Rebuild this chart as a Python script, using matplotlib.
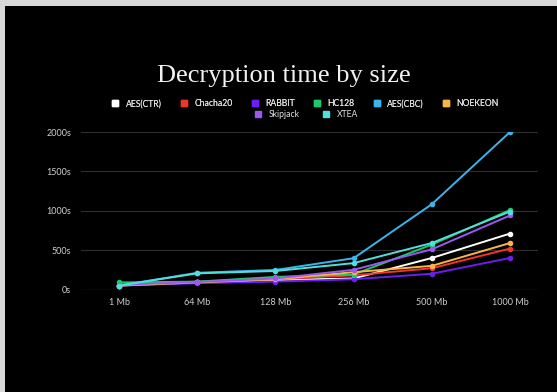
import matplotlib.pyplot as plt
from matplotlib.lines import Line2D
from matplotlib.patches import Rectangle

sizes = ["1 Mb", "64 Mb", "128 Mb", "256 Mb", "500 Mb", "1000 Mb"]
aes_ctr = [50, 90, 120, 140, 400, 710]
chacha20 = [60, 100, 130, 180, 270, 520]
rabbit = [50, 80, 100, 130, 200, 400]
hc128 = [90, 100, 160, 190, 570, 1010]
aes_cbc = [50, 212, 248, 397, 1083, 2000]
noekeon = [50, 90, 130, 220, 300, 590]
skipjack = [60, 95, 140, 250, 510, 940]
xtea = [50, 205, 235, 335, 590, 990]

series = [
    ("AES(CTR)", aes_ctr, "#ffffff"),
    ("Chacha20", chacha20, "#f0352a"),
    ("RABBIT", rabbit, "#6a1ff0"),
    ("HC128", hc128, "#1fc86a"),
    ("AES(CBC)", aes_cbc, "#3bb4ee"),
    ("NOEKEON", noekeon, "#f7b54a"),
    ("Skipjack", skipjack, "#9b59f0"),
    ("XTEA", xtea, "#4fe0dc"),
]

W, H = 557, 392
fig = plt.figure(figsize=(W / 100, H / 100), dpi=100)
fig.patch.set_facecolor("#d8d8d8")
fig.patches.append(Rectangle((5 / W, 0), 1, 1 - 6 / H, transform=fig.transFigure,
                             facecolor="black", edgecolor="none", zorder=-5))

ax = fig.add_axes([81 / W, (H - 289.5) / H, 457 / W, 157.5 / H], zorder=2)
ax.patch.set_alpha(0)

x = list(range(len(sizes)))
for name, vals, col in series:
    ax.plot(x, vals, color=col, lw=1.4, marker="o", ms=3, zorder=3)

ax.set_ylim(0, 2000)
ax.set_xlim(-0.486, 5.358)
ax.set_yticks([0, 500, 1000, 1500, 2000])
ax.set_yticklabels([f"{v}s" for v in [0, 500, 1000, 1500, 2000]])
ax.set_xticks(x)
ax.set_xticklabels(sizes)
ax.grid(axis="y", color="#2e2e2e", lw=0.8)
ax.axhline(0, color="#6a6a6a", lw=0.8, zorder=2)
for s in ax.spines.values():
    s.set_visible(False)
ax.tick_params(length=0, colors="#d0d0d0", labelsize=6.5, pad=6)
ax.tick_params(axis="y", pad=7)
for lab in ax.get_xticklabels() + ax.get_yticklabels():
    lab.set_family("Lato")

fig.text(284 / W, 1 - 76 / H, "Decryption time by size", ha="center", va="center",
         color="#f2f2f2", fontsize=19, family="Liberation Serif")

def handles(items):
    return [Line2D([], [], ls="none", marker="s", ms=4.5, color=c) for _, _, c in items]

legend_font = {"family": "Lato", "size": 6.2}
row1 = series[:6]
row2 = series[6:]
leg1 = fig.legend(handles(row1), [n for n, _, _ in row1], ncol=6, loc="center",
                  bbox_to_anchor=(305 / W, 1 - 104 / H), frameon=False,
                  prop=legend_font, labelcolor="#e0e0e0",
                  columnspacing=2.1, handletextpad=0.7, handlelength=1)
leg2 = fig.legend(handles(row2), [n for n, _, _ in row2], ncol=2, loc="center",
                  bbox_to_anchor=(306 / W, 1 - 114.5 / H), frameon=False,
                  prop=legend_font, labelcolor="#e0e0e0",
                  columnspacing=2.6, handletextpad=0.7, handlelength=1)
fig.add_artist(leg1)

fig.savefig("out.png", dpi=100, facecolor=fig.get_facecolor())
